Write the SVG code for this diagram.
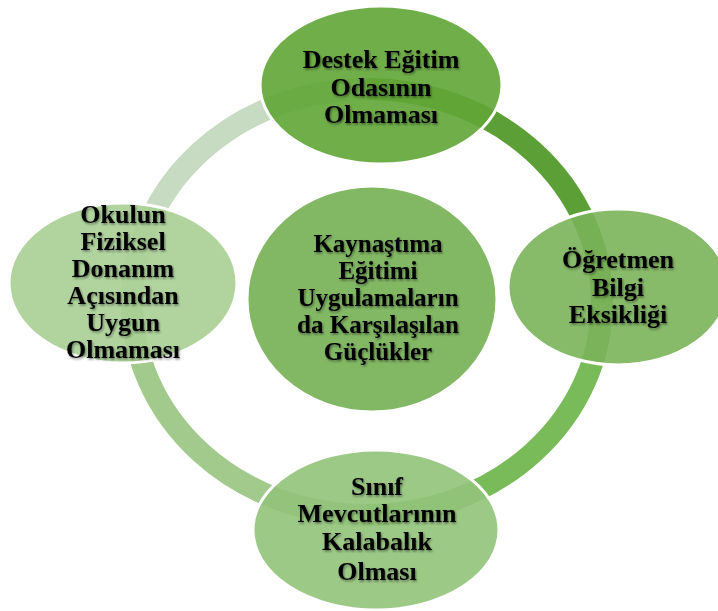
<svg xmlns="http://www.w3.org/2000/svg" width="718" height="611" viewBox="0 0 718 611">
  <defs>
    <filter id="ts" x="-10%" y="-20%" width="120%" height="150%">
      <feDropShadow dx="1" dy="1.5" stdDeviation="1.2" flood-color="#000" flood-opacity="0.45"/>
    </filter>
    <style>
      .seg { fill: none; stroke-width: 22; stroke-linecap: butt; }
      .node { stroke: #ffffff; stroke-width: 3; fill-opacity: 0.9; }
      .lbl { font-family: "Liberation Serif", "Times New Roman", serif; font-weight: bold; font-size: 26px; fill: #000; text-anchor: middle; filter: url(#ts); }
      .lbl-c { font-size: 25px; }
    </style>
  </defs>
  <rect width="718" height="611" fill="#ffffff"/>
  <g id="connectors">
    <path class="seg" stroke="#5d9f37" d="M 367 89 A 235 213 0 0 1 602 302"/>
    <path class="seg" stroke="#79ba59" d="M 602 302 A 235 213 0 0 1 367 515"/>
    <path class="seg" stroke="#a2ca8d" d="M 367 515 A 235 213 0 0 1 132 302"/>
    <path class="seg" stroke="#c7dbc3" d="M 132 302 A 235 213 0 0 1 367 89"/>
  </g>
  <g id="node-center">
    <ellipse cx="372" cy="299" rx="125" ry="113" fill="#82b864" stroke="#ffffff" stroke-width="3"/>
    <text class="lbl lbl-c"><tspan x="378" y="252">Kaynaştıma</tspan><tspan x="378" y="279">Eğitimi</tspan><tspan x="378" y="306">Uygulamaların</tspan><tspan x="378" y="333">da Karşılaşılan</tspan><tspan x="378" y="360">Güçlükler</tspan></text>
  </g>
  <g id="node-top">
    <ellipse class="node" cx="381" cy="85" rx="121" ry="79" fill="#61a536"/>
    <text class="lbl"><tspan x="381" y="68">Destek Eğitim</tspan><tspan x="381" y="96">Odasının</tspan><tspan x="381" y="123">Olmaması</tspan></text>
  </g>
  <g id="node-right">
    <ellipse class="node" cx="618" cy="287" rx="110" ry="78" fill="#7ab359"/>
    <text class="lbl"><tspan x="618" y="268">Öğretmen</tspan><tspan x="618" y="296">Bilgi</tspan><tspan x="618" y="323">Eksikliği</tspan></text>
  </g>
  <g id="node-bottom">
    <ellipse class="node" cx="376" cy="530" rx="123" ry="80" fill="#92c37a"/>
    <text class="lbl"><tspan x="377" y="495">Sınıf</tspan><tspan x="377" y="522">Mevcutlarının</tspan><tspan x="377" y="550">Kalabalık</tspan><tspan x="377" y="580">Olması</tspan></text>
  </g>
  <g id="node-left">
    <ellipse class="node" cx="123" cy="283" rx="114" ry="80" fill="#a9cf95"/>
    <text class="lbl"><tspan x="123" y="223">Okulun</tspan><tspan x="123" y="250">Fiziksel</tspan><tspan x="123" y="277">Donanım</tspan><tspan x="123" y="304">Açısından</tspan><tspan x="123" y="331">Uygun</tspan><tspan x="123" y="358">Olmaması</tspan></text>
  </g>
</svg>
